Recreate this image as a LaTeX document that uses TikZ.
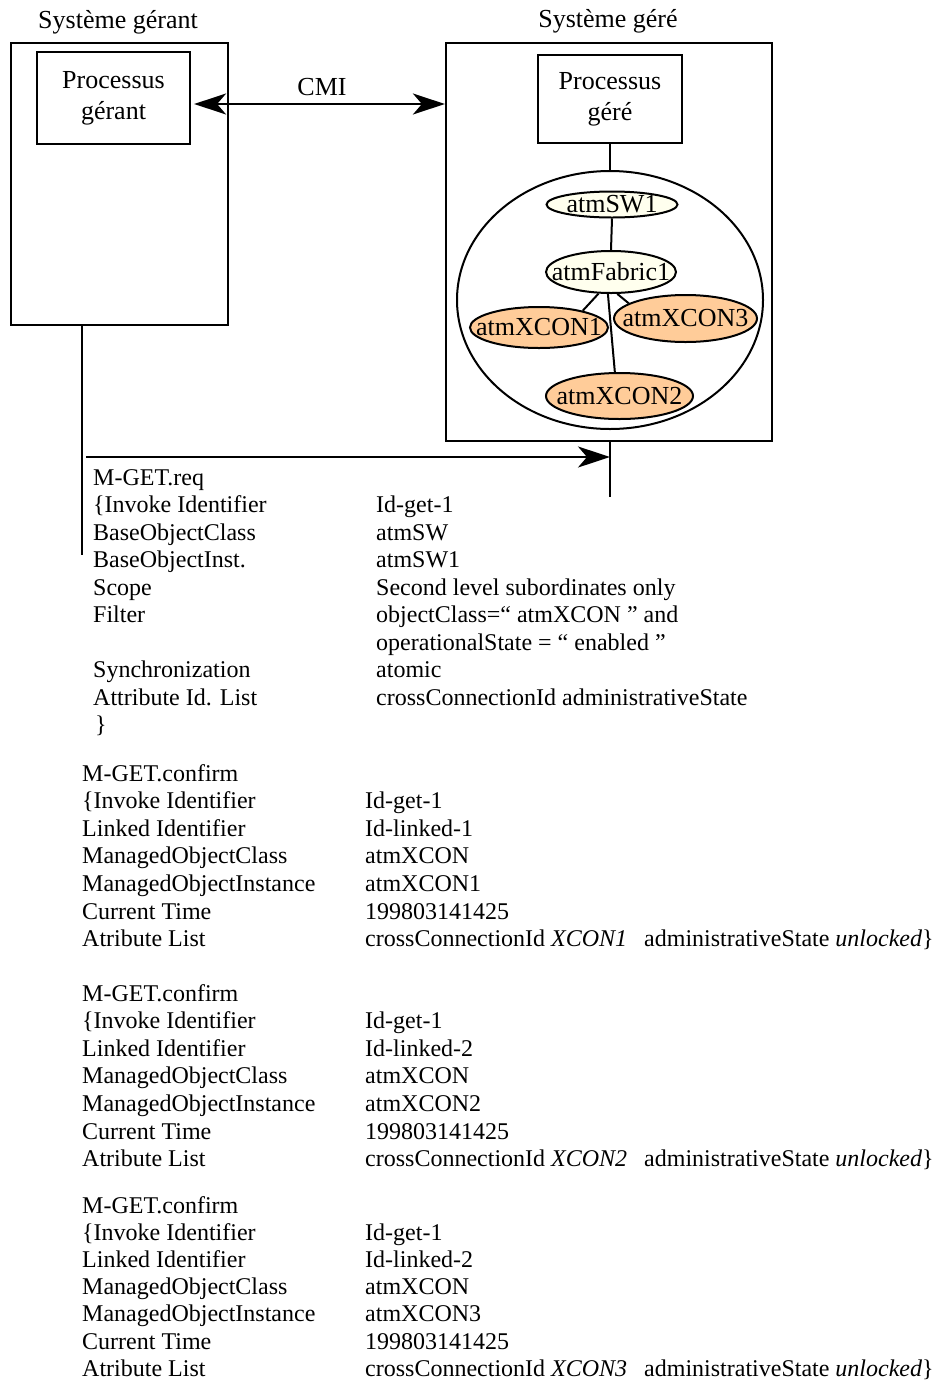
\documentclass[tikz,border=0pt]{standalone}
\usepackage{fontspec}
\setmainfont{Liberation Serif}
\usetikzlibrary{arrows.meta,shapes.geometric}
\definecolor{cream}{HTML}{FFFFEE}
\definecolor{peach}{HTML}{FFCC99}
\newcommand\trow[6]{\node[txt] (#1l) at (#3,#2) {#5}; \node[txt] (#1r) at (#4,#2) {#6};}
\begin{document}
\begin{tikzpicture}[x=1pt,y=-1pt,
  frame/.style={draw,line width=2.2pt,inner sep=0pt,rectangle},
  lbl/.style={font=\fontsize{26}{31}\selectfont,inner sep=0pt},
  txt/.style={font=\fontsize{24}{28}\selectfont,inner sep=0pt,anchor=base west},
  obj/.style={draw,ellipse,line width=2pt,inner sep=0pt},
  objtext/.style={font=\fontsize{26}{31}\selectfont,inner sep=0pt},
  link/.style={line width=2pt},
  plain/.style={line width=2.2pt},
  arr/.style={line width=2.2pt,-{Stealth[length=32pt,width=21pt,inset=9pt]}},
  biarr/.style={line width=2.2pt,{Stealth[length=32pt,width=21pt,inset=9pt]}-{Stealth[length=32pt,width=21pt,inset=9pt]}}]
\useasboundingbox (0,0) rectangle (935,1382);
% systems
\node[frame,minimum width=217pt,minimum height=282pt] (sg) at (119.5,184) {};
\node[frame,minimum width=326pt,minimum height=398pt] (sge) at (609,242) {};
\node[frame,lbl,align=center,minimum width=153pt,minimum height=92pt] (pg) at (113.5,98) {Processus\\gérant};
\node[frame,lbl,align=center,minimum width=144pt,minimum height=88pt] (pge) at (610,99) {Processus\\géré};
\node[lbl,anchor=base] (t1) at (118,28) {Système gérant};
\node[lbl,anchor=base] (t2) at (608,27) {Système géré};
\node[lbl,anchor=base] (cmi) at (322,95) {CMI};
% objects
\node[obj,minimum width=306pt,minimum height=258pt] (big) at (610,300) {};
\node[obj,fill=cream,minimum width=131pt,minimum height=26pt] (sw) at (612,204.5) {};
\node[obj,fill=cream,minimum width=130pt,minimum height=42pt] (fab) at (611,272) {};
\node[obj,fill=peach,minimum width=138pt,minimum height=41pt] (x1) at (539,327.5) {};
\node[obj,fill=peach,minimum width=143pt,minimum height=47pt] (x3) at (685.5,318.5) {};
\node[obj,fill=peach,minimum width=147pt,minimum height=46pt] (x2) at (619.5,396) {};
\node[objtext] (swt) at (sw.center) {atmSW1};
\node[objtext] (fabt) at (fab.center) {atmFabric1};
\node[objtext] (x1t) at (x1.center) {atmXCON1};
\node[objtext] (x3t) at (x3.center) {atmXCON3};
\node[objtext] (x2t) at (x2.center) {atmXCON2};
\draw[link] (pge.south) -- (big.north);
\draw[link] (sw.south) -- (fab.north);
\draw[link] (fab.240) -- (x1.21);
\draw[link] (fab.286) -- (x3.165);
\draw[link] (fab.262) -- (x2.101);
% CMI
\coordinate (cmiy) at (0,104);
\draw[biarr,shorten <=3pt] (pg.east |- cmiy) -- (sge.west |- cmiy);
% request
\coordinate (lb) at (82,555);
\draw[plain] (sg.south -| lb) -- (lb);
\coordinate (as) at (86,457);
\coordinate (rt) at (610,497);
\draw[arr] (as) -- (as -| rt);
\draw[plain] (sge.south -| rt) -- (rt);
% block 1
\node[txt] (q0) at (93,485) {M-GET.req};
\trow{q1}{512.5}{93}{376}{\{Invoke Identifier}{Id-get-1}
\trow{q2}{540}{93}{376}{BaseObjectClass}{atmSW}
\trow{q3}{567.5}{93}{376}{BaseObjectInst.}{atmSW1}
\trow{q4}{595}{93}{376}{Scope}{Second level subordinates only}
\trow{q5}{622.5}{93}{376}{Filter}{objectClass=“ atmXCON ” and}
\node[txt] (q6r) at (376,650) {operationalState = “ enabled ”};
\trow{q7}{677.5}{93}{376}{Synchronization}{atomic}
\trow{q8}{705}{93}{376}{Attribute Id. List}{crossConnectionId administrativeState}
\node[txt] (q9) at (95,732.5) {\}};
% block 2
\node[txt] (a0) at (82,781) {M-GET.confirm};
\trow{a1}{808.6}{82}{365}{\{Invoke Identifier}{Id-get-1}
\trow{a2}{836.2}{82}{365}{Linked Identifier}{Id-linked-1}
\trow{a3}{863.8}{82}{365}{ManagedObjectClass}{atmXCON}
\trow{a4}{891.4}{82}{365}{ManagedObjectInstance}{atmXCON1}
\trow{a5}{919}{82}{365}{Current Time}{199803141425}
\trow{a6}{946.6}{82}{365}{Atribute List}{crossConnectionId \textit{XCON1}\hspace{17pt}administrativeState \textit{unlocked}\}}
% block 3
\node[txt] (b0) at (82,1001) {M-GET.confirm};
\trow{b1}{1028.6}{82}{365}{\{Invoke Identifier}{Id-get-1}
\trow{b2}{1056.2}{82}{365}{Linked Identifier}{Id-linked-2}
\trow{b3}{1083.8}{82}{365}{ManagedObjectClass}{atmXCON}
\trow{b4}{1111.4}{82}{365}{ManagedObjectInstance}{atmXCON2}
\trow{b5}{1139}{82}{365}{Current Time}{199803141425}
\trow{b6}{1166.6}{82}{365}{Atribute List}{crossConnectionId \textit{XCON2}\hspace{17pt}administrativeState \textit{unlocked}\}}
% block 4
\node[txt] (c0) at (82,1213) {M-GET.confirm};
\trow{c1}{1240.2}{82}{365}{\{Invoke Identifier}{Id-get-1}
\trow{c2}{1267.4}{82}{365}{Linked Identifier}{Id-linked-2}
\trow{c3}{1294.6}{82}{365}{ManagedObjectClass}{atmXCON}
\trow{c4}{1321.8}{82}{365}{ManagedObjectInstance}{atmXCON3}
\trow{c5}{1349}{82}{365}{Current Time}{199803141425}
\trow{c6}{1376.2}{82}{365}{Atribute List}{crossConnectionId \textit{XCON3}\hspace{17pt}administrativeState \textit{unlocked}\}}
\end{tikzpicture}
\end{document}
